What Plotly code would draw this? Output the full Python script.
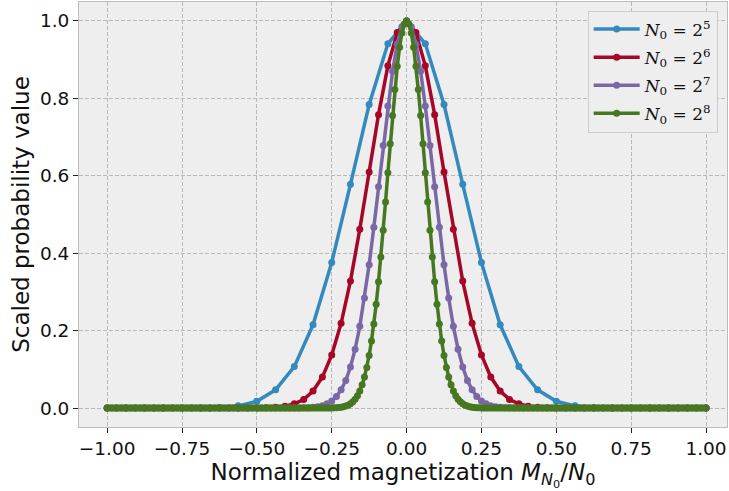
import numpy as np
import plotly.graph_objects as go

# Scaled probability values (peak normalised to 1)
core32 = [0.0001, 0.0003, 0.0015, 0.0056, 0.0175, 0.047, 0.107, 0.215, 0.376, 0.578, 0.784, 0.941,
          1.0,
          0.941, 0.784, 0.578, 0.376, 0.215, 0.107, 0.047, 0.0175, 0.0056, 0.0015, 0.0003, 0.0001]
core64 = [0.0001, 0.0003, 0.0008, 0.002, 0.0048, 0.011, 0.022, 0.044, 0.080, 0.137, 0.219, 0.328,
          0.462, 0.610, 0.758, 0.884, 0.970,
          1.0,
          0.970, 0.884, 0.758, 0.610, 0.462, 0.328, 0.219, 0.137, 0.080, 0.044, 0.022, 0.011,
          0.0048, 0.002, 0.0008, 0.0003, 0.0001]
core128 = [0.0001, 0.0002, 0.0005, 0.0009, 0.0018, 0.0034, 0.0062, 0.011, 0.018, 0.030, 0.047, 0.071,
           0.106, 0.152, 0.211, 0.284, 0.370, 0.467, 0.572, 0.678, 0.780, 0.870, 0.940, 0.985,
           1.0,
           0.985, 0.940, 0.870, 0.780, 0.678, 0.572, 0.467, 0.370, 0.284, 0.211, 0.152, 0.106,
           0.071, 0.047, 0.030, 0.018, 0.011, 0.0062, 0.0034, 0.0018, 0.0009, 0.0005, 0.0002, 0.0001]
core256 = [0.0001, 0.0002, 0.0003, 0.0005, 0.0009, 0.0014, 0.0021, 0.0033, 0.0050, 0.0075, 0.011,
           0.016, 0.023, 0.032, 0.044, 0.060, 0.080, 0.105, 0.136, 0.173, 0.217, 0.268, 0.326,
           0.390, 0.459, 0.532, 0.608, 0.683, 0.756, 0.823, 0.883, 0.932, 0.969, 0.992,
           1.0,
           0.992, 0.969, 0.932, 0.883, 0.823, 0.756, 0.683, 0.608, 0.532, 0.459, 0.390, 0.326,
           0.268, 0.217, 0.173, 0.136, 0.105, 0.080, 0.060, 0.044, 0.032, 0.023, 0.016, 0.011,
           0.0075, 0.0050, 0.0033, 0.0021, 0.0014, 0.0009, 0.0005, 0.0003, 0.0002, 0.0001]

y32 = [0.0] * 4 + core32 + [0.0] * 4
y64 = [0.0] * 15 + core64 + [0.0] * 15
y128 = [0.0] * 40 + core128 + [0.0] * 40
y256 = [0.0] * 94 + core256 + [0.0] * 94

sizes = [32, 64, 128, 256]
series = [y32, y64, y128, y256]
names = ["<i>N</i><sub>0</sub> = 2<sup>5</sup>", "<i>N</i><sub>0</sub> = 2<sup>6</sup>",
         "<i>N</i><sub>0</sub> = 2<sup>7</sup>", "<i>N</i><sub>0</sub> = 2<sup>8</sup>"]
colors = ["#348ABD", "#A60628", "#7A68A6", "#467821"]

x_ticks = [-1.0, -0.75, -0.5, -0.25, 0.0, 0.25, 0.5, 0.75, 1.0]
y_ticks = [0.0, 0.2, 0.4, 0.6, 0.8, 1.0]

fig = go.Figure()
for i, (n, y, name, c) in enumerate(zip(sizes, series, names, colors)):
    x = np.linspace(-1, 1, n + 1)
    fig.add_trace(go.Scatter(x=x, y=y, mode="lines+markers", name=name,
                             legendgroup=f"g{i}",
                             line=dict(color=c, width=3.5),
                             marker=dict(color=c, size=7)))

axis_common = dict(
    automargin=False,
    showgrid=True, gridcolor="#b8b8b8", griddash="4px,2px", gridwidth=1,
    zeroline=False, showline=True, linecolor="#bcbcbc", linewidth=1, mirror=True,
    ticks="outside", ticklen=5, tickwidth=1.3, tickcolor="#222222",
    tickfont=dict(family="DejaVu Sans", size=18.5, color="#111111"),
)

fig.update_layout(
    width=729, height=491,
    margin=dict(l=79, r=2, t=2, b=64),
    paper_bgcolor="white", plot_bgcolor="#eeeeee",
    xaxis=dict(range=[-1.094, 1.07], tickvals=x_ticks, tickformat=".2f",
               title=dict(text="Normalized magnetization <i>M</i><sub><i>N</i><sub>0</sub></sub>/<i>N</i><sub>0</sub>",
                          font=dict(family="DejaVu Sans", size=23, color="#111111"), standoff=0),
               **axis_common),
    yaxis=dict(range=[-0.049, 1.049], tickvals=y_ticks, tickformat=".1f",
               title=dict(text="Scaled probability value",
                          font=dict(family="DejaVu Sans", size=23, color="#111111"), standoff=3),
               **axis_common),
    legend=dict(x=0.785, y=0.98, xanchor="left", yanchor="top",
                bgcolor="#eeeeee", bordercolor="#cccccc", borderwidth=1,
                font=dict(family="DejaVu Serif", size=17, color="#111111"),
                tracegroupgap=3, itemwidth=46),
    showlegend=True,
)

fig.write_html("out.html", config={"displayModeBar": False},
               post_script="document.body.style.margin='0';")
